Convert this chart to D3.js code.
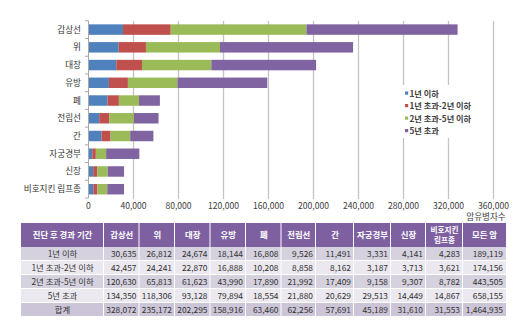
<!DOCTYPE html>
<html>
<head>
<meta charset="utf-8">
<script src="https://cdn.jsdelivr.net/npm/d3@7"></script>
<style>
  body { margin: 0; background: #fff; }
  svg text { font-family: "Noto Sans CJK KR", "Noto Sans", sans-serif; }
</style>
</head>
<body>
<svg id="chart" width="527" height="330"></svg>
<script>
// 암 종류 (표 순서)
const cancers = ["갑상선", "위", "대장", "유방", "폐", "전립선", "간", "자궁경부", "신장", "비호지킨 림프종"];
const tableHeads = ["갑상선", "위", "대장", "유방", "폐", "전립선", "간", "자궁경부", "신장", ["비호지킨", "림프종"], "모든 암"];
const periods = ["1년 이하", "1년 초과-2년 이하", "2년 초과-5년 이하", "5년 초과"];
const colors = ["#4F81BD", "#C0504D", "#9BBB59", "#8064A2"];

// 진단 후 경과 기간별 암유병자수 (마지막 값 = 모든 암)
const within1 = [30635, 26812, 24674, 18144, 16808, 9526, 11491, 3331, 4141, 4283, 189119];
const y1to2 = [42457, 24241, 22870, 16888, 10208, 8858, 8162, 3187, 3713, 3621, 174156];
const y2to5 = [120630, 65813, 61623, 43990, 17890, 21992, 17409, 9158, 9307, 8782, 443505];
const over5 = [134350, 118306, 93128, 79894, 18554, 21880, 20629, 29513, 14449, 14867, 658155];
const totals = [328072, 235172, 202295, 158916, 63460, 62256, 57691, 45189, 31610, 31553, 1464935];
const xTicks = [0, 40000, 80000, 120000, 160000, 200000, 240000, 280000, 320000, 360000];

const series = [within1, y1to2, y2to5, over5];
const svg = d3.select("#chart");
const fmt = d3.format(",");

/* Balkendiagramm */
const x = d3.scaleLinear().domain([0, 360000]).range([88.5, 493.5]);
const y = d3.scaleBand().domain(cancers).range([20.8, 198]).paddingInner(0.41).paddingOuter(0.2);

// Gitterlinien
svg.append("g").selectAll("line")
  .data(xTicks.slice(1))
  .join("line")
  .attr("x1", d => x(d)).attr("x2", d => x(d))
  .attr("y1", 21).attr("y2", 199)
  .attr("stroke", "#c4c4c4").attr("stroke-width", 1.3);

// Achsenbeschriftung
svg.append("g").selectAll("text")
  .data(xTicks)
  .join("text")
  .attr("x", d => x(d)).attr("y", 208.5)
  .attr("text-anchor", "middle")
  .attr("font-size", 8.6).attr("fill", "#404040")
  .text(d => fmt(d));

svg.append("text")
  .attr("x", 486).attr("y", 219.5)
  .attr("text-anchor", "middle")
  .attr("font-size", 8.6).attr("fill", "#404040")
  .text("암유병자수");

// Stapel
const rows = cancers.map((c, i) => {
  const r = { name: c };
  periods.forEach((p, k) => r[p] = series[k][i]);
  return r;
});
const stacked = d3.stack().keys(periods)(rows);

svg.append("g").selectAll("g")
  .data(stacked)
  .join("g")
  .attr("fill", (d, i) => colors[i])
  .selectAll("rect")
  .data(d => d)
  .join("rect")
  .attr("x", d => x(d[0]))
  .attr("width", d => x(d[1]) - x(d[0]))
  .attr("y", d => y(d.data.name))
  .attr("height", y.bandwidth());

// y-Achse
svg.append("line")
  .attr("x1", 88.5).attr("x2", 88.5).attr("y1", 20.8).attr("y2", 198)
  .attr("stroke", "#a8a8a8").attr("stroke-width", 1);
const step = (198 - 20.8) / cancers.length;
svg.append("g").selectAll("line")
  .data(d3.range(cancers.length + 1))
  .join("line")
  .attr("x1", 85).attr("x2", 88.5)
  .attr("y1", d => 20.8 + d * step).attr("y2", d => 20.8 + d * step)
  .attr("stroke", "#a8a8a8");

svg.append("g").selectAll("text")
  .data(cancers)
  .join("text")
  .attr("x", 81).attr("y", d => y(d) + y.bandwidth() / 2 + 3)
  .attr("text-anchor", "end")
  .attr("font-size", 8.6).attr("fill", "#333")
  .text(d => d);

// Legende
const leg = svg.append("g");
leg.append("rect").attr("x", 399).attr("y", 85).attr("width", 82).attr("height", 53).attr("fill", "#fff");
periods.forEach((p, i) => {
  leg.append("rect").attr("x", 405).attr("y", 91.5 + i * 12.5).attr("width", 3.2).attr("height", 3.2).attr("fill", colors[i]);
  leg.append("text").attr("x", 409.5).attr("y", 96.5 + i * 12.5)
    .attr("font-size", 8.2).attr("font-weight", "bold").attr("fill", "#404040")
    .text(p);
});

/* Tabelle */
const colEdges = [21, 104, 139.5, 175, 210.5, 246, 281.5, 316, 354, 391, 426, 463, 506];
const headTop = 223, headH = 24, rowH = 14;
const tableRows = periods.concat(["합계"]);
const tableData = [within1, y1to2, y2to5, over5, totals];
const rowFill = ["#d6d1de", "#ebe8ef", "#d6d1de", "#ebe8ef", "#ccc5d7"];

const tbl = svg.append("g");
// Kopfzeile
const heads = ["진단 후 경과 기간"].concat(tableHeads);
heads.forEach((h, i) => {
  const x0 = colEdges[i], x1 = colEdges[i + 1];
  tbl.append("rect").attr("x", x0).attr("y", headTop).attr("width", x1 - x0 - (i < heads.length - 1 ? 1 : 0)).attr("height", headH)
    .attr("fill", "#7e60a1");
  const lines = Array.isArray(h) ? h : [h];
  const fs = lines.length > 1 ? 7.6 : 8.4;
  lines.forEach((t, k) => {
    tbl.append("text")
      .attr("x", (x0 + x1) / 2)
      .attr("y", headTop + headH / 2 + 3 + (k - (lines.length - 1) / 2) * 10)
      .attr("text-anchor", "middle")
      .attr("font-size", fs).attr("font-weight", "bold").attr("fill", "#fff")
      .text(t);
  });
});

tableRows.forEach((r, j) => {
  const top = headTop + headH + j * rowH;
  tbl.append("rect").attr("x", colEdges[0]).attr("y", top).attr("width", colEdges[colEdges.length - 1] - colEdges[0]).attr("height", rowH - 1)
    .attr("fill", rowFill[j]);
  tbl.append("text")
    .attr("x", (colEdges[0] + colEdges[1]) / 2).attr("y", top + rowH / 2 + 2.5)
    .attr("text-anchor", "middle").attr("font-size", 8.4).attr("fill", "#333")
    .text(r);
  tableData[j].forEach((v, i) => {
    tbl.append("text")
      .attr("x", colEdges[i + 2] - 3).attr("y", top + rowH / 2 + 2.5)
      .attr("text-anchor", "end").attr("font-size", 8.4).attr("fill", "#333")
      .text(fmt(v));
  });
});
// vertikale Trennlinien
tbl.selectAll("line.sep")
  .data(colEdges.slice(1, -1))
  .join("line")
  .attr("x1", d => d - 0.5).attr("x2", d => d - 0.5)
  .attr("y1", headTop + headH).attr("y2", headTop + headH + rowH * tableRows.length)
  .attr("stroke", "#fff").attr("stroke-width", 1);
</script>
</body>
</html>
